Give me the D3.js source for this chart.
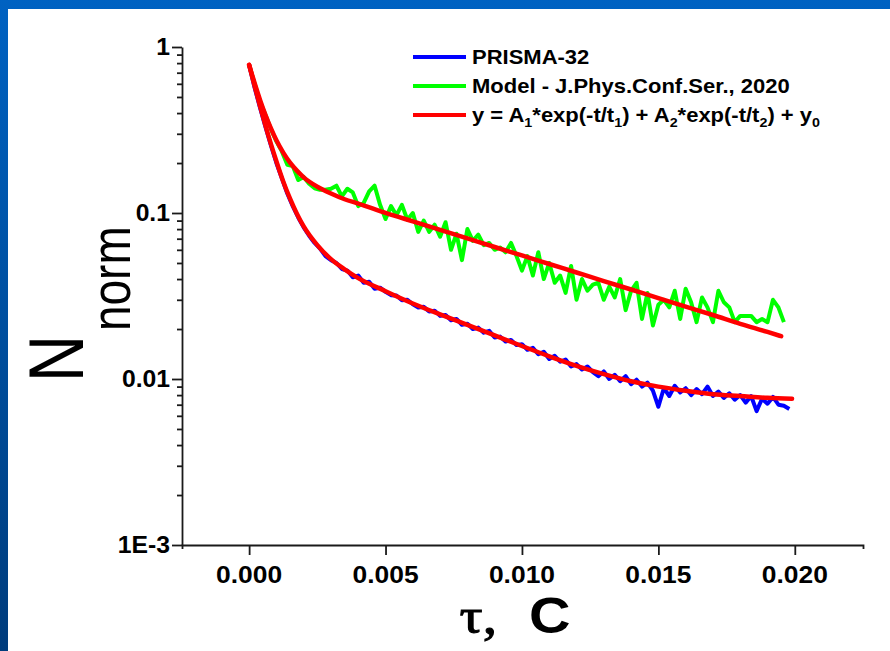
<!DOCTYPE html>
<html>
<head>
<meta charset="utf-8">
<script src="https://cdn.jsdelivr.net/npm/d3@7"></script>
<style>
  html, body { margin: 0; padding: 0; background: #fff; }
  svg { display: block; }
  text { font-family: Arial, "Liberation Sans", sans-serif; fill: #000; }
</style>
</head>
<body>
<script>
// measured curves are sampled every 0.2 ms
var sampleStep = 0.0002;

// PRISMA-32, normalised counts
var prismaN = [
  0.78, 0.57, 0.43, 0.33, 0.255, 0.20, 0.162, 0.131, 0.110, 0.094,
  0.082, 0.073, 0.066, 0.061, 0.055, 0.052, 0.050, 0.046, 0.045, 0.041,
  0.042, 0.038, 0.0385, 0.035, 0.0355, 0.0335, 0.0320, 0.0318, 0.0298, 0.0300,
  0.0282, 0.0270, 0.0272, 0.0255, 0.0258, 0.0240, 0.0243, 0.0226, 0.0230, 0.0212,
  0.0215, 0.0200, 0.0204, 0.0190, 0.0195, 0.0178, 0.0180, 0.0168, 0.0172, 0.0160,
  0.0162, 0.0150, 0.0154, 0.0141, 0.0146, 0.0132, 0.0138, 0.0127, 0.0131, 0.0119,
  0.0123, 0.0114, 0.0119, 0.0110, 0.0104, 0.0111, 0.0100, 0.0106, 0.0097, 0.0104,
  0.0093, 0.0099, 0.0090, 0.0095, 0.0085, 0.0068, 0.0088, 0.0079, 0.0091, 0.0083,
  0.0088, 0.0080, 0.0087, 0.0081, 0.0090, 0.0079, 0.0084, 0.0077, 0.0082, 0.0075,
  0.0080, 0.0072, 0.0079, 0.0064, 0.0076, 0.0071, 0.0078, 0.0070, 0.0069, 0.0066
];

// Model - J.Phys.Conf.Ser., 2020
var modelN = [
  0.78, 0.60, 0.47, 0.39, 0.32, 0.27, 0.235, 0.195, 0.192, 0.158,
  0.165, 0.150, 0.141, 0.138, 0.138, 0.140, 0.146, 0.126, 0.140, 0.133,
  0.110, 0.115, 0.135, 0.146, 0.112, 0.092, 0.110, 0.097, 0.112, 0.091,
  0.100, 0.077, 0.090, 0.077, 0.085, 0.072, 0.088, 0.060, 0.075, 0.052,
  0.080, 0.068, 0.074, 0.064, 0.066, 0.060, 0.062, 0.058, 0.066, 0.055,
  0.045, 0.055, 0.042, 0.058, 0.040, 0.050, 0.038, 0.042, 0.033, 0.048,
  0.030, 0.040, 0.034, 0.037, 0.038, 0.030, 0.036, 0.031, 0.040, 0.026,
  0.034, 0.038, 0.023, 0.033, 0.021, 0.028, 0.030, 0.027, 0.034, 0.023,
  0.035, 0.029, 0.022, 0.031, 0.027, 0.022, 0.034, 0.029, 0.027, 0.022,
  0.024, 0.024, 0.024, 0.022, 0.023, 0.022, 0.030, 0.027, 0.022
];

// double-exponential fits, time in ms
var fitPrismaT = [0, 0.2, 0.4, 0.6, 0.8, 1, 1.25, 1.5, 1.75, 2, 2.5, 3, 3.5, 4, 5, 6, 7, 8, 9, 10,
  11, 12, 13, 14, 15, 16, 17, 18, 19, 19.9];
var fitPrismaN = [0.781, 0.583, 0.440, 0.336, 0.260, 0.205, 0.155, 0.122, 0.099, 0.083, 0.064, 0.0527,
  0.0458, 0.0405, 0.0338, 0.0285, 0.0245, 0.0212, 0.0183, 0.0158, 0.0137, 0.0120, 0.0107, 0.0097,
  0.0090, 0.0085, 0.0081, 0.0079, 0.0077, 0.0076];

var fitModelT = [0, 0.2, 0.4, 0.6, 0.8, 1, 1.25, 1.5, 1.75, 2, 2.5, 3, 3.5, 4, 5, 6, 7, 8, 9, 10,
  11, 12, 13, 14, 15, 16, 17, 18, 19, 19.5];
var fitModelN = [0.781, 0.607, 0.480, 0.389, 0.323, 0.274, 0.231, 0.201, 0.180, 0.164, 0.144, 0.131,
  0.121, 0.114, 0.1002, 0.0890, 0.0791, 0.0703, 0.0624, 0.0555, 0.0493, 0.0438, 0.0389, 0.0346,
  0.0307, 0.0273, 0.0243, 0.0215, 0.0192, 0.0181];

var xTicks = [0, 0.005, 0.01, 0.015, 0.02];
var xTickLabels = ["0.000", "0.005", "0.010", "0.015", "0.020"];
var yTicks = [1, 0.1, 0.01, 0.001];
var yTickLabels = ["1", "0.1", "0.01", "1E-3"];

var legendColors = ["#0000ff", "#00ff00", "#ff0000"];
var legendLabels = [
  [["PRISMA-32", 0]],
  [["Model - J.Phys.Conf.Ser., 2020", 0]],
  [["y = A", 0], ["1", 1], ["*exp(-t/t", 0], ["1", 1], [") + A", 0], ["2", 1],
   ["*exp(-t/t", 0], ["2", 1], [") + y", 0], ["0", 1]]
];

var width = 890, height = 651;

var svg = d3.select("body").append("svg")
    .attr("width", width)
    .attr("height", height);

var defs = svg.append("defs");
var grad = defs.append("linearGradient")
    .attr("id", "slideBlue")
    .attr("x1", 0).attr("y1", 0).attr("x2", 0).attr("y2", 1);
grad.append("stop").attr("offset", "0%").attr("stop-color", "#0062c2");
grad.append("stop").attr("offset", "100%").attr("stop-color", "#003c7c");

svg.append("rect")
    .attr("width", width)
    .attr("height", height)
    .attr("fill", "url(#slideBlue)");
svg.append("rect")
    .attr("x", 8)
    .attr("y", 9)
    .attr("width", width - 8)
    .attr("height", height - 9)
    .attr("fill", "#ffffff");

var x = d3.scaleLinear().domain([-0.00246, 0.0225]).range([182, 863]);
var y = d3.scaleLog().domain([0.001, 1]).range([545, 47]);

// curves
var dataLine = d3.line()
    .x(function (d) { return x(d[0]); })
    .y(function (d) { return y(d[1]); });

var fitLine = d3.line()
    .curve(d3.curveMonotoneX)
    .x(function (d) { return x(d[0] / 1000); })
    .y(function (d) { return y(d[1]); });

var prismaPts = prismaN.map(function (v, i) { return [i * sampleStep, v]; });
var modelPts = modelN.map(function (v, i) { return [i * sampleStep, v]; });
var fitPrismaPts = fitPrismaT.map(function (t, i) { return [t, fitPrismaN[i]]; });
var fitModelPts = fitModelT.map(function (t, i) { return [t, fitModelN[i]]; });

var plot = svg.append("g");

plot.append("path")
    .datum(prismaPts)
    .attr("d", dataLine)
    .attr("fill", "none")
    .attr("stroke", legendColors[0])
    .attr("stroke-width", 4)
    .attr("stroke-linejoin", "round");

plot.append("path")
    .datum(modelPts)
    .attr("d", dataLine)
    .attr("fill", "none")
    .attr("stroke", legendColors[1])
    .attr("stroke-width", 4)
    .attr("stroke-linejoin", "round");

[fitPrismaPts, fitModelPts].forEach(function (pts) {
    plot.append("path")
        .datum(pts)
        .attr("d", fitLine)
        .attr("fill", "none")
        .attr("stroke", legendColors[2])
        .attr("stroke-width", 4.5)
        .attr("stroke-linecap", "round");
});

// axes
var axisColor = "#1a1a1a";

var minorTicks = [];
[0.001, 0.01, 0.1].forEach(function (dec) {
    for (var k = 2; k <= 9; k++) minorTicks.push(dec * k);
});

svg.append("g")
    .attr("transform", "translate(182,0)")
    .call(d3.axisLeft(y).tickValues(yTicks).tickSize(10).tickSizeOuter(0).tickFormat(""));
var yAxisMinor = svg.append("g")
    .attr("transform", "translate(182,0)")
    .call(d3.axisLeft(y).tickValues(minorTicks).tickSize(5).tickSizeOuter(0).tickFormat(""));
yAxisMinor.select(".domain").remove();

svg.append("g")
    .attr("transform", "translate(0,545)")
    .call(d3.axisBottom(x).tickValues(xTicks).tickSize(10).tickSizeOuter(4).tickFormat(""));

svg.selectAll(".domain, .tick line")
    .attr("stroke", axisColor)
    .attr("stroke-width", 1.8);

function stretchedText(parent, px, py, sx) {
    return parent.append("g")
        .attr("transform", "translate(" + px + "," + py + ") scale(" + sx + ",1)")
        .append("text");
}

yTicks.forEach(function (v, i) {
    stretchedText(svg, 170, y(v) + 8, 1.03)
        .attr("text-anchor", "end")
        .attr("font-size", 24)
        .attr("font-weight", "bold")
        .text(yTickLabels[i]);
});

xTicks.forEach(function (v, i) {
    stretchedText(svg, x(v), 583, 1.1)
        .attr("text-anchor", "middle")
        .attr("font-size", 24)
        .attr("font-weight", "bold")
        .text(xTickLabels[i]);
});

// axis titles
var xt = stretchedText(svg, 515, 633, 1.15)
    .attr("text-anchor", "middle")
    .attr("font-size", 50)
    .attr("font-weight", "bold");
xt.append("tspan")
    .style("font-family", "'Liberation Serif', 'Times New Roman', serif")
    .style("font-weight", "normal")
    .attr("stroke", "#000")
    .attr("stroke-width", 1)
    .text("\u03c4,");
xt.append("tspan")
    .attr("xml:space", "preserve")
    .style("white-space", "pre")
    .text("  C");

var yt = svg.append("g")
    .attr("transform", "translate(83,382) scale(1.2,1) rotate(-90)")
    .append("text")
    .attr("font-size", 65);
yt.append("tspan").text("N");
yt.append("tspan")
    .attr("font-size", 46)
    .attr("dy", 39)
    .attr("dx", 4)
    .text("norm");

// legend
var legend = svg.append("g");
legendLabels.forEach(function (parts, i) {
    var ly = 57 + i * 29;
    legend.append("line")
        .attr("x1", 413).attr("x2", 466)
        .attr("y1", ly).attr("y2", ly)
        .attr("stroke", legendColors[i])
        .attr("stroke-width", 4);
    var t = stretchedText(legend, 472, ly + 7, 1.1)
        .attr("font-size", 20)
        .attr("font-weight", "bold");
    var wasSub = false;
    parts.forEach(function (p) {
        var ts = t.append("tspan").text(p[0]);
        if (p[1] && !wasSub) ts.attr("font-size", 13).attr("dy", 5);
        if (!p[1] && wasSub) ts.attr("dy", -5);
        wasSub = !!p[1];
    });
});
</script>
</body>
</html>
